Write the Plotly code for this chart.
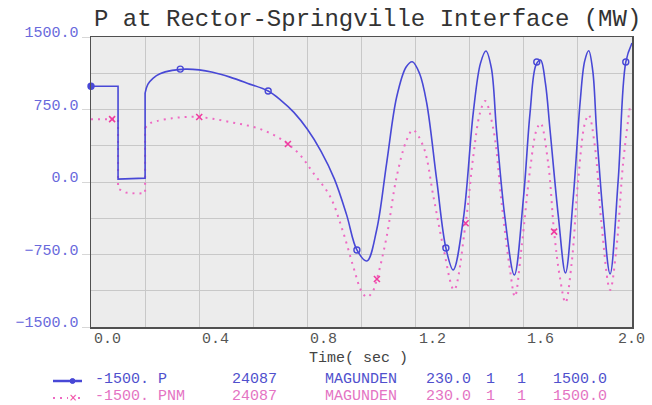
import plotly.graph_objects as go

# ---------------- data ----------------
# P (blue): step part (linear) then smooth part
t_p_step = [0.0, 0.1, 0.1, 0.15, 0.2, 0.2]
p_step = [990, 990, 30, 35, 40, 920]

t_p = [0.2, 0.21, 0.23, 0.255, 0.3, 0.35, 0.4, 0.45, 0.514, 0.58, 0.655, 0.70, 0.75, 0.80,
       0.85, 0.90, 0.945, 0.983, 1.02, 1.056, 1.093, 1.13, 1.165, 1.188, 1.215, 1.241,
       1.278, 1.312, 1.339, 1.376, 1.413, 1.44, 1.46, 1.48, 1.499, 1.53, 1.565, 1.599,
       1.623, 1.645, 1.662, 1.68, 1.697, 1.728, 1.754, 1.783, 1.808, 1.825, 1.84, 1.855,
       1.869, 1.894, 1.919, 1.949, 1.977, 2.0]
p_val = [920, 1010, 1075, 1120, 1155, 1168, 1160, 1135, 1085, 1020, 941, 850, 720, 545,
         320, 30, -340, -703, -817, -496, 196, 879, 1190, 1244, 1120, 817,
         21, -683, -910, -393, 713, 1230, 1355, 1180, 538, -362, -962, -155,
         713, 1210, 1262, 1020, 538, -362, -941, -155, 817, 1250, 1358, 1150,
         538, -362, -951, 21, 1241, 1437]

p_mark_t = [0.0, 0.33, 0.655, 0.983, 1.312, 1.648, 1.977]
p_mark_v = [990, 1168, 941, -703, -683, 1241, 1241]

# PNM (pink)
t_pnm_step = [0.0, 0.1, 0.1, 0.13, 0.17, 0.2, 0.2]
pnm_step = [650, 650, -70, -110, -120, -115, 560]

t_pnm = [0.2, 0.22, 0.244, 0.3, 0.35, 0.4, 0.45, 0.514, 0.57, 0.625, 0.68, 0.728, 0.773,
         0.82, 0.884, 0.93, 0.97, 1.0, 1.02, 1.04, 1.057, 1.093, 1.13, 1.167, 1.19, 1.229,
         1.266, 1.302, 1.342, 1.385, 1.413, 1.438, 1.457, 1.488, 1.518, 1.549, 1.567,
         1.592, 1.623, 1.647, 1.662, 1.69, 1.712, 1.733, 1.754, 1.777, 1.801, 1.826,
         1.84, 1.863, 1.887, 1.919, 1.943, 1.967, 1.993]
pnm_val = [560, 610, 631, 660, 672, 672, 655, 620, 590, 548, 480, 393, 280,
           100, -150, -500, -880, -1130, -1190, -1140, -1003, -565, 55, 434, 538, 365,
           -152, -669, -1117, -427, 262, 713, 838, 538, -217, -910, -1186,
           -669, 124, 538, 607, 196, -514, -979, -1248, -838, 21, 610,
           693, 365, -427, -1117, -669, 193, 796]

pnm_mark_t = [0.078, 0.4, 0.728, 1.057, 1.385, 1.712]
pnm_mark_v = [650, 672, 393, -1003, -427, -514]

x_tick_vals = [0.0, 0.4, 0.8, 1.2, 1.6, 2.0]
x_tick_text = ["0.0", "0.4", "0.8", "1.2", "1.6", "2.0"]

title_text = "P at Rector-Springville Interface (MW)"
x_title = "Time( sec )"
legend_rows = [
    ["-1500. P", "24087", "MAGUNDEN", "230.0", "1", "1", "1500.0"],
    ["-1500. PNM", "24087", "MAGUNDEN", "230.0", "1", "1", "1500.0"],
]

# ---------------- style ----------------
BLUE = "rgb(72,72,214)"
BLUE_TXT = "rgb(80,80,205)"
YTICK = "rgb(105,105,220)"
PINK = "rgb(238,105,195)"
PINK_MK = "rgb(240,60,160)"
PINK_TXT = "rgb(228,115,195)"
FONT = "Liberation Mono, DejaVu Sans Mono, monospace"

W, H = 652, 405
L, R, T, B = 91, 632, 37, 327

fig = go.Figure()
fig.add_trace(go.Scatter(x=t_pnm_step, y=pnm_step, mode="lines",
                         line=dict(color=PINK, width=2, dash="2px,5px"), showlegend=False))
fig.add_trace(go.Scatter(x=t_pnm, y=pnm_val, mode="lines",
                         line=dict(color=PINK, width=2, dash="2px,5px", shape="spline", smoothing=1),
                         showlegend=False))
fig.add_trace(go.Scatter(x=pnm_mark_t, y=pnm_mark_v, mode="markers",
                         marker=dict(symbol="x-thin-open", size=6, color=PINK_MK,
                                     line=dict(color=PINK_MK, width=1.6)),
                         showlegend=False))
fig.add_trace(go.Scatter(x=t_p_step, y=p_step, mode="lines",
                         line=dict(color=BLUE, width=1.6), showlegend=False))
fig.add_trace(go.Scatter(x=t_p, y=p_val, mode="lines",
                         line=dict(color=BLUE, width=1.6, shape="spline", smoothing=1),
                         showlegend=False))
fig.add_trace(go.Scatter(x=p_mark_t, y=p_mark_v, mode="markers",
                         marker=dict(symbol=["circle"] + ["circle-open"] * (len(p_mark_t) - 1),
                                     size=6, color=BLUE, line=dict(color=BLUE, width=1.4)),
                         cliponaxis=False, showlegend=False))

def px_x(px):
    return (px - L) / (R - L)

def px_y(py):
    return (B - py) / (B - T)

annotations = []
# title
annotations.append(dict(text=title_text, xref="paper", yref="paper", x=px_x(92), y=px_y(19),
                        xanchor="left", yanchor="middle", showarrow=False,
                        font=dict(family=FONT, size=24, color="#333333")))
# x tick labels
for v, s in zip(x_tick_vals, x_tick_text):
    last = v == x_tick_vals[-1]
    annotations.append(dict(text=s, xref="x", yref="paper", x=v, y=0, yshift=-12,
                            xanchor="center" if last else "left", xshift=-1 if last else 1,
                            yanchor="middle", showarrow=False,
                            font=dict(family=FONT, size=15, color="#555555")))
# x title
annotations.append(dict(text=x_title, xref="paper", yref="paper", x=px_x(358), y=px_y(358),
                        xanchor="center", yanchor="middle", showarrow=False,
                        font=dict(family=FONT, size=15, color="#444444")))
# legend text
col_x = [93, 230, 323, 424, 484, 515, 551]
row_y = [379, 396]
row_col = [BLUE_TXT, PINK_TXT]
for r, row in enumerate(legend_rows):
    for c, s in enumerate(row):
        annotations.append(dict(text=s, xref="paper", yref="paper", x=px_x(col_x[c]), y=px_y(row_y[r]),
                                xanchor="left", yanchor="middle", showarrow=False,
                                font=dict(family=FONT, size=15, color=row_col[r])))
# pink legend x marker
annotations.append(dict(text="×", xref="paper", yref="paper", x=px_x(73), y=px_y(397),
                        xanchor="center", yanchor="middle", showarrow=False,
                        font=dict(family="DejaVu Sans", size=10, color=PINK_MK)))

shapes = [
    dict(type="line", xref="paper", yref="paper", x0=px_x(53), x1=px_x(82), y0=px_y(381), y1=px_y(381),
         line=dict(color=BLUE, width=2.5)),
    dict(type="circle", xref="paper", yref="paper", x0=px_x(70), x1=px_x(75), y0=px_y(378.5), y1=px_y(383.5),
         fillcolor=BLUE, line=dict(color=BLUE, width=1)),
    dict(type="line", xref="paper", yref="paper", x0=px_x(53), x1=px_x(68), y0=px_y(398), y1=px_y(398),
         line=dict(color=PINK, width=2, dash="2px,5px")),
    dict(type="line", xref="paper", yref="paper", x0=px_x(78), x1=px_x(84), y0=px_y(398), y1=px_y(398),
         line=dict(color=PINK, width=2, dash="2px,5px")),
]

fig.update_layout(
    width=W, height=H,
    margin=dict(l=L, r=W - R, t=T, b=H - B, pad=0),
    paper_bgcolor="white",
    plot_bgcolor="rgb(236,236,236)",
    showlegend=False,
    annotations=annotations,
    shapes=shapes,
    xaxis=dict(range=[0, 2.0], dtick=0.4, tick0=0, showticklabels=False,
               showgrid=True, gridcolor="rgb(200,200,200)", gridwidth=1,
               minor=dict(dtick=0.2, tick0=0, showgrid=True, gridcolor="rgb(200,200,200)", gridwidth=1),
               showline=True, mirror=True, linecolor="rgb(80,80,80)", linewidth=1.5,
               zeroline=False, ticks=""),
    yaxis=dict(range=[-1500, 1500], dtick=750, tick0=0, tickformat=".1f",
               showgrid=True, gridcolor="rgb(200,200,200)", gridwidth=1,
               minor=dict(dtick=375, tick0=0, showgrid=True, gridcolor="rgb(200,200,200)", gridwidth=1),
               showline=True, mirror=True, linecolor="rgb(80,80,80)", linewidth=1.5,
               zeroline=False, ticks="outside", ticklen=8, tickcolor="rgb(215,215,215)",
               ticklabelshift=-5,
               tickfont=dict(family=FONT, size=15, color=YTICK)),
)

fig.write_html("out.html", config={"displayModeBar": False, "staticPlot": True},
               post_script="document.body.style.margin='0';document.body.style.overflow='hidden';")
